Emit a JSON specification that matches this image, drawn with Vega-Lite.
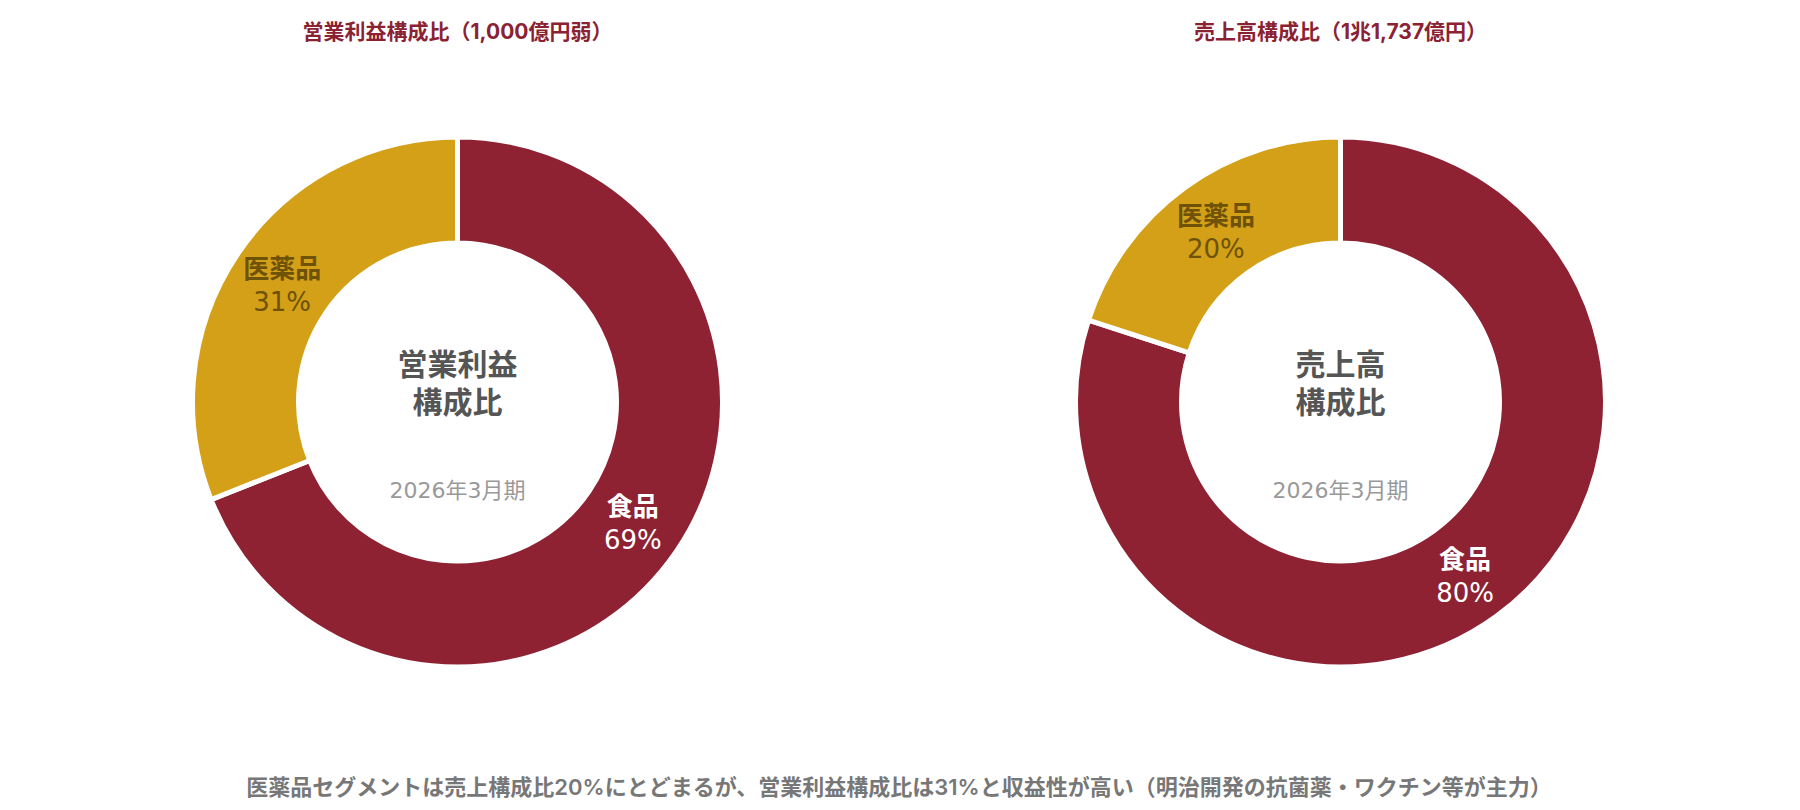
{
  "$schema": "https://vega.github.io/schema/vega-lite/v6.json",
  "background": "white",
  "padding": {"left": 16, "top": 22, "right": 0, "bottom": 0},
  "spacing": 0,
  "datasets": {
    "profit": [
      {"seg": "食品", "value": 69, "pct": "69%"},
      {"seg": "医薬品", "value": 31, "pct": "31%"}
    ],
    "sales": [
      {"seg": "食品", "value": 80, "pct": "80%"},
      {"seg": "医薬品", "value": 20, "pct": "20%"}
    ]
  },
  "title": {
    "text": "医薬品セグメントは売上構成比20%にとどまるが、営業利益構成比は31%と収益性が高い（明治開発の抗菌薬・ワクチン等が主力）",
    "orient": "bottom",
    "anchor": "middle",
    "fontSize": 22,
    "fontWeight": 600,
    "color": "#777777",
    "offset": 27
  },
  "hconcat": [
    {
      "width": 883,
      "height": 698,
      "title": {"text": "営業利益構成比（1,000億円弱）", "fontSize": 21, "fontWeight": "bold", "color": "#8b2232", "offset": 10},
      "data": {"name": "profit"},
      "layer": [
        {
          "mark": {"type": "arc", "outerRadius": 265, "innerRadius": 159, "stroke": "white", "strokeWidth": 5},
          "encoding": {
            "theta": {"field": "value", "type": "quantitative", "stack": true},
            "order": {"field": "value", "sort": "descending"},
            "color": {"field": "seg", "type": "nominal", "scale": {"domain": ["食品", "医薬品"], "range": ["#8e2233", "#d4a017"]}, "legend": null}
          }
        },
        {
          "mark": {"type": "text", "radius": 212, "dy": -13, "fontSize": 26, "fontWeight": "bold"},
          "encoding": {
            "theta": {"field": "value", "type": "quantitative", "stack": true},
            "order": {"field": "value", "sort": "descending"},
            "detail": {"field": "seg"},
            "text": {"field": "seg"},
            "color": {"condition": {"test": "datum.seg === '食品'", "value": "white"}, "value": "#6e5208"}
          }
        },
        {
          "mark": {"type": "text", "radius": 212, "dy": 20, "fontSize": 26, "font": "DejaVu Sans, Noto Sans CJK JP"},
          "encoding": {
            "theta": {"field": "value", "type": "quantitative", "stack": true},
            "order": {"field": "value", "sort": "descending"},
            "detail": {"field": "seg"},
            "text": {"field": "pct"},
            "color": {"condition": {"test": "datum.seg === '食品'", "value": "white"}, "value": "#6e5208"}
          }
        },
        {
          "data": {"values": [{"label": "営業利益\n構成比", "period": "2026年3月期"}]},
          "mark": {"type": "text", "dy": -36, "fontSize": 30, "fontWeight": "bold", "color": "#555555", "lineBreak": "\n", "lineHeight": 38},
          "encoding": {"text": {"field": "label"}}
        },
        {
          "data": {"values": [{"label": "営業利益\n構成比", "period": "2026年3月期"}]},
          "mark": {"type": "text", "dy": 89, "fontSize": 22, "color": "#999999", "font": "DejaVu Sans, Noto Sans CJK JP"},
          "encoding": {"text": {"field": "period"}}
        }
      ]
    },
    {
      "width": 883,
      "height": 698,
      "title": {"text": "売上高構成比（1兆1,737億円）", "fontSize": 21, "fontWeight": "bold", "color": "#8b2232", "offset": 10},
      "data": {"name": "sales"},
      "layer": [
        {
          "mark": {"type": "arc", "outerRadius": 265, "innerRadius": 159, "stroke": "white", "strokeWidth": 5},
          "encoding": {
            "theta": {"field": "value", "type": "quantitative", "stack": true},
            "order": {"field": "value", "sort": "descending"},
            "color": {"field": "seg", "type": "nominal", "scale": {"domain": ["食品", "医薬品"], "range": ["#8e2233", "#d4a017"]}, "legend": null}
          }
        },
        {
          "mark": {"type": "text", "radius": 212, "dy": -13, "fontSize": 26, "fontWeight": "bold"},
          "encoding": {
            "theta": {"field": "value", "type": "quantitative", "stack": true},
            "order": {"field": "value", "sort": "descending"},
            "detail": {"field": "seg"},
            "text": {"field": "seg"},
            "color": {"condition": {"test": "datum.seg === '食品'", "value": "white"}, "value": "#6e5208"}
          }
        },
        {
          "mark": {"type": "text", "radius": 212, "dy": 20, "fontSize": 26, "font": "DejaVu Sans, Noto Sans CJK JP"},
          "encoding": {
            "theta": {"field": "value", "type": "quantitative", "stack": true},
            "order": {"field": "value", "sort": "descending"},
            "detail": {"field": "seg"},
            "text": {"field": "pct"},
            "color": {"condition": {"test": "datum.seg === '食品'", "value": "white"}, "value": "#6e5208"}
          }
        },
        {
          "data": {"values": [{"label": "売上高\n構成比", "period": "2026年3月期"}]},
          "mark": {"type": "text", "dy": -36, "fontSize": 30, "fontWeight": "bold", "color": "#555555", "lineBreak": "\n", "lineHeight": 38},
          "encoding": {"text": {"field": "label"}}
        },
        {
          "data": {"values": [{"label": "売上高\n構成比", "period": "2026年3月期"}]},
          "mark": {"type": "text", "dy": 89, "fontSize": 22, "color": "#999999", "font": "DejaVu Sans, Noto Sans CJK JP"},
          "encoding": {"text": {"field": "period"}}
        }
      ]
    }
  ],
  "config": {
    "font": "Inter, Noto Sans CJK JP",
    "view": {"stroke": null}
  }
}
